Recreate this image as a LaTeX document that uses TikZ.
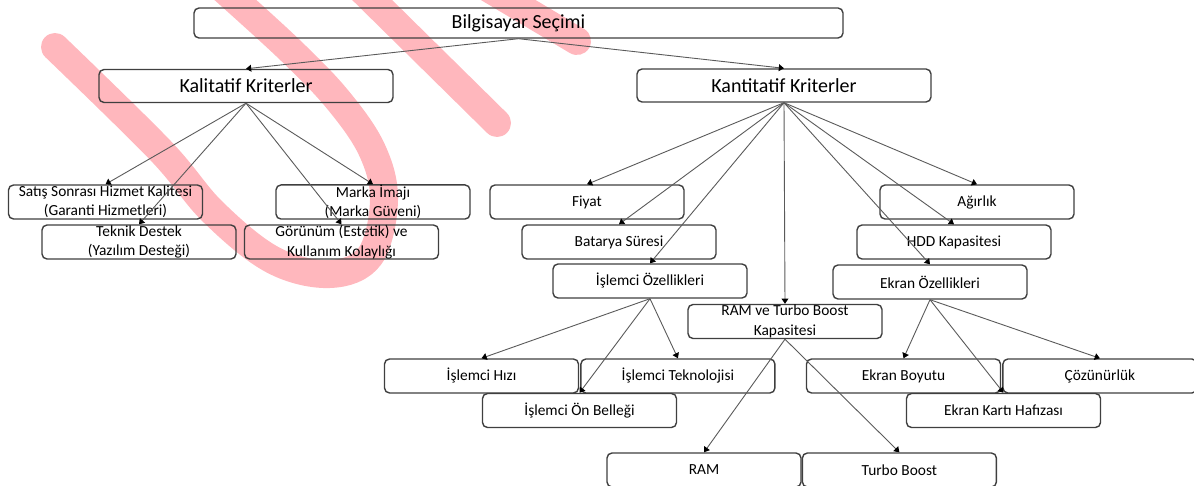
\documentclass[tikz,border=0pt]{standalone}
\usepackage{fontspec}
\setmainfont{Carlito}
\usetikzlibrary{arrows.meta,positioning}
\definecolor{boxline}{HTML}{3F3F3F}
\definecolor{linkline}{HTML}{5A5A5A}
\definecolor{pinkmark}{HTML}{FFB7BD}
\tikzset{
  goal/.style={draw=boxline,line width=0.7pt,rounded corners=2.5pt,align=center,inner sep=0pt,
    minimum height=15pt,minimum width=324.5pt,font=\fontsize{10}{12}\selectfont},
  group/.style={goal,minimum height=16.5pt,minimum width=147pt},
  item/.style={draw=boxline,line width=0.7pt,rounded corners=2.5pt,align=center,inner sep=0pt,
    minimum height=17pt,minimum width=97pt,font=\fontsize{7.7}{9.7}\selectfont},
  arrow/.style={-{Triangle[length=2.6pt,width=3.4pt,color=black]},draw=linkline,line width=0.45pt},
  watermark/.style={draw=pinkmark,line width=14pt,line cap=round,line join=round}
}
\begin{document}
\begin{tikzpicture}[x=0.5pt,y=-0.5pt]
    \useasboundingbox (0,0) rectangle (1194,486);
    % pembe filigran
    \draw[watermark] plot[smooth,tension=0.6] coordinates {(55,47) (160,150) (213,212) (273,260) (330,274) (370,256) (384,200) (372,150) (338,100) (290,50) (222,-12)};
    \draw[watermark] (362,-10) -- (497,123);
    \draw[watermark] (478,-18) -- (577,41);
    % kutular
    \node[goal] (top) at (518.5,23) {Bilgisayar Seçimi};
    \node[group] (kal) at (246,86) {Kalitatif Kriterler};
    \node[group] (kan) at (784,85.5) {Kantitatif Kriterler};
    \node[item] (satis) at (105.5,202) {Satış Sonrası Hizmet Kalitesi\\(Garanti Hizmetleri)};
    \node[item] (teknik) at (139,242) {Teknik Destek\\(Yazılım Desteği)};
    \node[item] (marka) at (373,202) {Marka İmajı\\(Marka Güveni)};
    \node[item] (gorunum) at (341.5,242) {Görünüm (Estetik) ve\\Kullanım Kolaylığı};
    \node[item] (fiyat) at (587,202) {Fiyat};
    \node[item] (batarya) at (619,242) {Batarya Süresi};
    \node[item] (islemci) at (650,281) {İşlemci Özellikleri};
    \node[item] (agirlik) at (977,202) {Ağırlık};
    \node[item] (hdd) at (954,242) {HDD Kapasitesi};
    \node[item] (ekran) at (930,282) {Ekran Özellikleri};
    \node[item] (ramturbo) at (785,321.5) {RAM ve Turbo Boost\\Kapasitesi};
    \node[item] (hiz) at (481.5,376) {İşlemci Hızı};
    \node[item,right=0.5pt of hiz] (tekno) {İşlemci Teknolojisi};
    \node[item] (onbellek) at (579.5,410.5) {İşlemci Ön Belleği};
    \node[item] (boyut) at (903.5,376) {Ekran Boyutu};
    \node[item,right=0.5pt of boyut] (cozunurluk) {Çözünürlük};
    \node[item] (kart) at (1003.5,410.5) {Ekran Kartı Hafızası};
    \node[item] (ram) at (704,470) {RAM};
    \node[item,right=0pt of ram] (turbo) {Turbo Boost};
    % oklar
    \foreach \a/\b in {top/kal,top/kan,kal/satis,kal/teknik,kal/marka,kal/gorunum,
      kan/fiyat,kan/batarya,kan/islemci,kan/ramturbo,kan/ekran,kan/hdd,kan/agirlik,
      islemci/hiz,islemci/tekno,islemci/onbellek,ramturbo/ram,ramturbo/turbo,
      ekran/boyut,ekran/cozunurluk,ekran/kart}{\draw[arrow] (\a.south) -- (\b.north);}
\end{tikzpicture}
\end{document}
